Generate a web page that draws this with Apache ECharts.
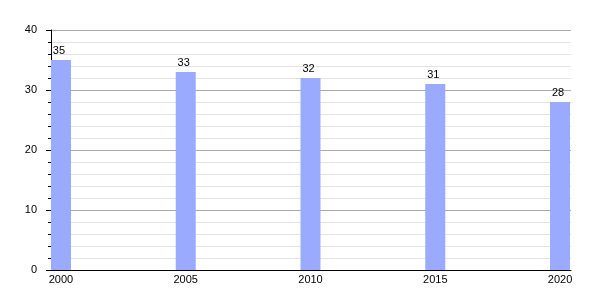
<!DOCTYPE html>
<html><head><meta charset="utf-8">
<script src="https://cdn.jsdelivr.net/npm/echarts@6/dist/echarts.min.js"></script>
<style>html,body{margin:0;padding:0;background:#fff}#c{width:600px;height:300px}</style>
</head><body><div id="c"></div>
<script>
const years = [2000, 2005, 2010, 2015, 2020];
const values = [35, 33, 32, 31, 28];
const yTicks = [0, 10, 20, 30, 40];

const chart = echarts.init(document.getElementById('c'), null, {renderer: 'canvas'});
chart.setOption({
  animation: false,
  textStyle: {fontFamily: 'Liberation Sans, Arial, sans-serif'},
  grid: {left: 51, right: 29, top: 30, bottom: 30, containLabel: false},
  xAxis: {
    type: 'value', min: 1999.6, max: 2020.44,
    axisLine: {show: true, lineStyle: {color: '#000', width: 1}},
    axisTick: {show: false},
    splitLine: {show: false},
    axisLabel: {customValues: years, color: '#000', fontSize: 11, margin: 4,
      formatter: v => String(Math.round(v))}
  },
  yAxis: {
    type: 'value', min: 0, max: 40, interval: 10,
    axisLine: {show: true, lineStyle: {color: '#000', width: 1}},
    axisTick: {show: true, length: 5, lineStyle: {color: '#000'}},
    minorTick: {show: true, splitNumber: 5, length: 3, lineStyle: {color: '#000'}},
    splitLine: {show: true, lineStyle: {color: '#aaaaaa', width: 1}},
    minorSplitLine: {show: true, lineStyle: {color: '#e3e3e3', width: 1}},
    axisLabel: {color: '#000', fontSize: 11, margin: 14}
  },
  series: [{
    type: 'bar',
    data: years.map((y, i) => [y, values[i]]),
    barWidth: 20,
    itemStyle: {color: '#99aaff'},
    label: {show: true, position: 'top', distance: 4, color: '#000', fontSize: 11, offset: [-2, 0]}
  }]
});
</script>
</body></html>
